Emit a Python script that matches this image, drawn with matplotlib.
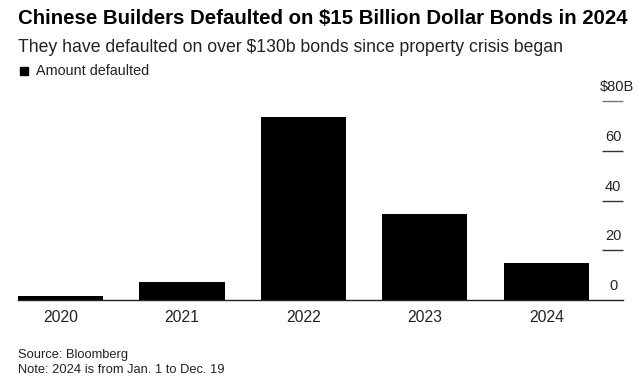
import matplotlib.pyplot as plt

plt.rcParams["font.family"] = ["Liberation Sans", "DejaVu Sans"]

# data (billion USD)
years = ["2020", "2021", "2022", "2023", "2024"]
defaulted = [1.5, 7.2, 73.6, 34.4, 14.8]
y_ticks = [0, 20, 40, 60, 80]
y_labels = ["0", "20", "40", "60", "$80B"]

fig = plt.figure(figsize=(6.43, 3.86), dpi=100)
ax = fig.add_axes([18 / 643, 1 - 300 / 386, (623 - 18) / 643, (300 - 101) / 386])

x = range(len(years))
ax.bar(x, defaulted, width=0.7, color="black", zorder=2)
ax.set_xlim(-0.35, 4.63)
ax.set_ylim(0, 80)

for s in ["top", "right", "left"]:
    ax.spines[s].set_visible(False)
ax.spines["bottom"].set_color("#222222")
ax.spines["bottom"].set_linewidth(1.0)
ax.set_yticks([])
ax.set_xticks(list(x))
ax.set_xticklabels(years, fontsize=11.3, color="#222222")
ax.tick_params(axis="x", length=0, pad=7)

# short tick lines with labels in the right margin
for v, lab in zip(y_ticks, y_labels):
    if v > 0:
        ax.hlines(v, 4.46, 4.63, color="#333333" if v < 80 else "#777777",
                  linewidth=1.0, clip_on=False)
    ax.annotate(lab, (4.55 if v < 80 else 4.58, v), xytext=(0, 5),
                textcoords="offset points", ha="center", va="bottom",
                fontsize=10.5, color="#222222", annotation_clip=False)

fig.text(18 / 643, 1 - 19 / 386, "Chinese Builders Defaulted on $15 Billion Dollar Bonds in 2024",
         fontsize=14.7, fontweight="bold", va="center", ha="left", color="black")
fig.text(18 / 643, 1 - 47 / 386, "They have defaulted on over $130b bonds since property crisis began",
         fontsize=12.7, va="center", ha="left", color="#222222")
fig.patches.append(plt.Rectangle((20 / 643, 1 - 75 / 386), 8 / 643, 8 / 386,
                                 transform=fig.transFigure, color="black"))
fig.text(36 / 643, 1 - 71 / 386, "Amount defaulted", fontsize=10.4, va="center", ha="left",
         color="#222222")
fig.text(18 / 643, 1 - 355 / 386, "Source: Bloomberg", fontsize=9.3, va="center", ha="left",
         color="#222222")
fig.text(18 / 643, 1 - 370 / 386, "Note: 2024 is from Jan. 1 to Dec. 19", fontsize=9.3,
         va="center", ha="left", color="#222222")

fig.savefig("out.png", dpi=100)
